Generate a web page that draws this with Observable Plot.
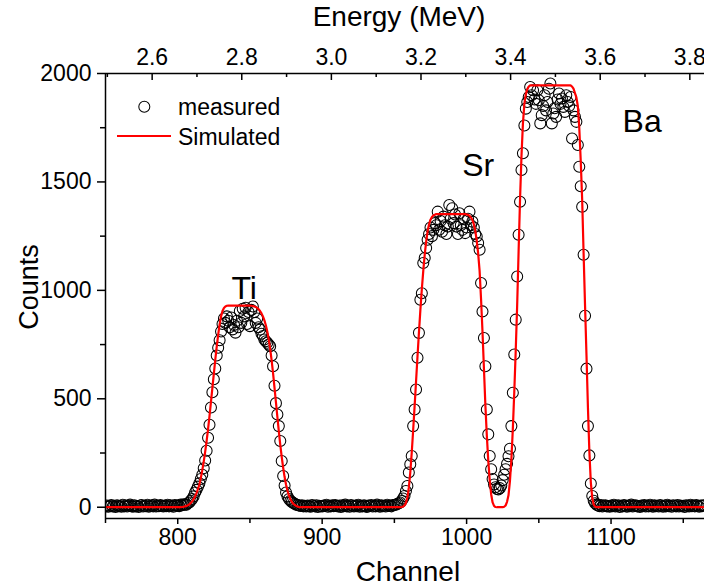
<!DOCTYPE html>
<html>
<head>
<meta charset="utf-8">
<script src="https://cdn.jsdelivr.net/npm/d3@7"></script>
<script src="https://cdn.jsdelivr.net/npm/@observablehq/plot@0.6"></script>
<style>
html, body { margin: 0; padding: 0; background: #fff; }
#chart { width: 704px; height: 586px; overflow: hidden; }
</style>
</head>
<body>
<div id="chart"></div>
<script>
// ---- data ----
const startChannel = 750; // first channel of both series, one value per channel

const measuredCounts = [
  4, 8, 2, 6, 10, 3, 7, 1, 9, 5,
  6, 2, 11, 4, 8, 3, 7, 12, 5, 2,
  9, 4, 6, 1, 8, 10, 3, 7, 5, 11,
  2, 6, 9, 4, 12, 3, 7, 5, 10, 6,
  3, 8, 5, 11, 4, 9, 6, 2, 10, 7,
  8, 5, 12, 9, 14, 11, 12, 18, 22, 30,
  38, 50, 68, 80, 95, 110, 130, 150, 180, 215,
  260, 320, 380, 460, 530, 590, 640, 700, 735, 770,
  810, 845, 870, 850, 880, 860, 830, 875, 820, 840,
  805, 860, 830, 905, 850, 915, 880, 920, 845, 900,
  835, 910, 926, 900, 850, 870, 830, 819, 800, 790,
  773, 765, 758, 750, 742, 700, 650, 560, 480, 428,
  374, 305, 213, 144, 100, 68, 50, 38, 30, 24,
  20, 16, 12, 10, 8, 6, 9, 4, 7, 3,
  8, 5, 2, 10, 6, 4, 9, 1, 7, 5,
  3, 8, 6, 11, 2, 7, 4, 9, 5, 10,
  6, 3, 8, 1, 9, 5, 12, 4, 7, 2,
  10, 6, 3, 8, 5, 11, 2, 7, 4, 9,
  5, 1, 8, 6, 10, 3, 7, 4, 12, 6,
  2, 9, 5, 7, 3, 11, 6, 8, 4, 10,
  10, 12, 15, 18, 22, 29, 40, 52, 75, 98,
  160, 198, 236, 374, 451, 543, 689, 804, 957, 987,
  1126, 1149, 1195, 1233, 1260, 1290, 1250, 1279, 1310, 1300,
  1363, 1280, 1320, 1270, 1340, 1300, 1260, 1294, 1394, 1330,
  1379, 1310, 1350, 1294, 1260, 1356, 1300, 1279, 1330, 1264,
  1290, 1330, 1363, 1300, 1317, 1290, 1260, 1248, 1218, 1187,
  1034, 903, 780, 650, 451, 336, 236, 175, 130, 105,
  92, 84, 82, 88, 100, 125, 150, 175, 200, 235,
  270, 374, 528, 704, 865, 1064, 1256, 1409, 1555, 1632,
  1760, 1838, 1869, 1892, 1938, 1900, 1923, 1880, 1860, 1923,
  1877, 1770, 1808, 1850, 1900, 1830, 1869, 1930, 1954, 1770,
  1816, 1840, 1800, 1880, 1908, 1860, 1885, 1846, 1823, 1900,
  1869, 1850, 1892, 1700, 1830, 1800, 1777, 1670, 1570, 1480,
  1386, 1164, 883, 639, 374, 239, 109, 52, 30, 18,
  12, 8, 5, 10, 3, 7, 9, 4, 6, 2,
  8, 5, 11, 3, 6, 9, 1, 7, 4, 10,
  6, 2, 8, 5, 12, 3, 7, 9, 4, 6,
  1, 8, 5, 10, 3, 7, 4, 11, 6, 2,
  9, 5, 7, 3, 10, 6, 2, 8, 4, 11,
  5, 7, 2, 9, 6, 4, 10, 3, 8, 5,
  7, 1, 9, 6, 3, 11, 5, 8, 4, 10,
  6, 2, 8, 5, 9
];

const simulatedCounts = [
  0, 0, 0, 0, 0, 0, 0, 0, 0, 0,
  0, 0, 0, 0, 0, 0, 0, 0, 0, 0,
  0, 0, 0, 0, 0, 0, 0, 0, 0, 0,
  0, 0, 0, 0, 0, 0, 0, 0, 0, 0,
  0, 0, 0, 0, 0, 0, 0, 0, 0, 0,
  0, 0, 0, 1, 2, 4, 6, 9, 13, 19,
  27, 37, 50, 65, 83, 105, 135, 170, 210, 255,
  305, 360, 420, 485, 550, 615, 680, 740, 795, 843,
  880, 905, 919, 926, 929, 930, 930, 930, 930, 930,
  930, 930, 930, 930, 930, 930, 930, 930, 930, 930,
  930, 929, 928, 926, 923, 919, 913, 905, 894, 880,
  862, 839, 810, 774, 730, 678, 618, 552, 484, 416,
  350, 288, 232, 182, 139, 104, 76, 54, 37, 25,
  16, 10, 6, 3, 1, 0, 0, 0, 0, 0,
  0, 0, 0, 0, 0, 0, 0, 0, 0, 0,
  0, 0, 0, 0, 0, 0, 0, 0, 0, 0,
  0, 0, 0, 0, 0, 0, 0, 0, 0, 0,
  0, 0, 0, 0, 0, 0, 0, 0, 0, 0,
  0, 0, 0, 0, 0, 0, 0, 0, 0, 0,
  0, 0, 0, 0, 0, 0, 0, 0, 0, 0,
  0, 0, 0, 0, 0, 1, 3, 8, 20, 45,
  90, 160, 250, 355, 465, 580, 695, 805, 910, 1005,
  1090, 1165, 1225, 1272, 1305, 1326, 1338, 1345, 1349, 1352,
  1352, 1352, 1352, 1352, 1352, 1352, 1352, 1352, 1352, 1352,
  1352, 1352, 1352, 1352, 1352, 1352, 1352, 1352, 1352, 1352,
  1350, 1348, 1344, 1336, 1325, 1305, 1275, 1230, 1170, 1090,
  960, 810, 640, 470, 330, 215, 125, 60, 22, 6,
  1, 0, 0, 0, 0, 0, 2, 8, 25, 55,
  120, 220, 360, 530, 720, 930, 1180, 1420, 1620, 1770,
  1860, 1905, 1928, 1940, 1945, 1945, 1945, 1945, 1945, 1945,
  1945, 1945, 1945, 1945, 1945, 1945, 1945, 1945, 1945, 1945,
  1945, 1945, 1945, 1945, 1945, 1945, 1945, 1945, 1945, 1945,
  1945, 1945, 1945, 1940, 1930, 1910, 1890, 1850, 1750, 1600,
  1420, 1170, 930, 700, 460, 255, 115, 42, 12, 3,
  0, 0, 0, 0, 0, 0, 0, 0, 0, 0,
  0, 0, 0, 0, 0, 0, 0, 0, 0, 0,
  0, 0, 0, 0, 0, 0, 0, 0, 0, 0,
  0, 0, 0, 0, 0, 0, 0, 0, 0, 0,
  0, 0, 0, 0, 0, 0, 0, 0, 0, 0,
  0, 0, 0, 0, 0, 0, 0, 0, 0, 0,
  0, 0, 0, 0, 0, 0, 0, 0, 0, 0,
  0, 0, 0, 0, 0
];

const seriesNames = ["measured", "Simulated"];
const channelTicks = [800, 900, 1000, 1100];
const channelMinorTicks = [750, 850, 950, 1050, 1150];
const countTicks = [0, 500, 1000, 1500, 2000];
const countMinorTicks = [250, 750, 1250, 1750];
const energyTicks = [2.6, 2.8, 3.0, 3.2, 3.4, 3.6, 3.8];
const energyMinorTicks = [2.5, 2.7, 2.9, 3.1, 3.3, 3.5, 3.7];
const peakNames = ["Ti", "Sr", "Ba"];
const peakChannels = [846, 1008, 1121.5];
const peakCounts = [1009, 1574, 1778];

// energy calibration of the top axis (channel at 2.6 MeV, channels per MeV)
const energyRef = 2.6, channelAtRef = 782.3, channelsPerMeV = 310.2;
const toChannel = e => channelAtRef + (e - energyRef) * channelsPerMeV;
const toEnergy = c => energyRef + (c - channelAtRef) / channelsPerMeV;

// ---- tables ----
const measured = measuredCounts.map((c, i) => ({channel: startChannel + i, counts: c}));
const simulated = simulatedCounts.map((c, i) => ({channel: startChannel + i, counts: c}));
const peaks = peakNames.map((n, i) => ({name: n, channel: peakChannels[i], counts: peakCounts[i]}));

// ---- layout ----
const W = 704, H = 586, mL = 105, mR = 0, mT = 73, mB = 68;
const plotH = H - mT - mB;
const xDomain = [750, 1164.7], yDomain = [-52, 2000];
const font = "'Liberation Sans', Arial, Helvetica, sans-serif";
const axisW = 1.5;

const plot = Plot.plot({
  width: W, height: H,
  marginLeft: mL, marginRight: mR, marginTop: mT, marginBottom: mB,
  style: {fontFamily: font, background: "#fff", color: "#000"},
  x: {domain: xDomain},
  y: {domain: yDomain},
  marks: [
    Plot.dot(measured, {x: "channel", y: "counts", r: 5.5, stroke: "#000", strokeWidth: 1.05, fill: "none", clip: true}),
    Plot.line(simulated, {x: "channel", y: "counts", stroke: "#ff0000", strokeWidth: 2.2, clip: true}),
    Plot.ruleX([xDomain[0]], {stroke: "#000", strokeWidth: axisW}),
    Plot.ruleY([yDomain[0]], {stroke: "#000", strokeWidth: axisW}),
    Plot.ruleY([yDomain[1]], {stroke: "#000", strokeWidth: axisW}),
    Plot.axisX({anchor: "bottom", ticks: channelTicks, tickSize: 6, tickPadding: 4, fontSize: 23, label: null, strokeWidth: axisW, tickFormat: d => String(d)}),
    Plot.axisX({anchor: "bottom", ticks: channelMinorTicks, tickSize: 5, tickFormat: () => "", label: null, strokeWidth: axisW}),
    Plot.axisY({anchor: "left", ticks: countTicks, tickSize: 8, tickPadding: 6, fontSize: 23, label: null, strokeWidth: axisW, tickFormat: d => String(d)}),
    Plot.axisY({anchor: "left", ticks: countMinorTicks, tickSize: 5, tickFormat: () => "", label: null, strokeWidth: axisW}),
    Plot.axisX({anchor: "top", ticks: energyTicks.map(toChannel), tickSize: 0, tickPadding: 9, fontSize: 23, label: null, tickFormat: d => toEnergy(d).toFixed(1)}),
    Plot.tickX(energyTicks.map(toChannel), {x: d => d, insetBottom: plotH - 7, stroke: "#000", strokeWidth: axisW}),
    Plot.tickX(energyMinorTicks.map(toChannel), {x: d => d, insetBottom: plotH - 4, stroke: "#000", strokeWidth: axisW}),
    Plot.text(["Channel"], {frameAnchor: "bottom", textAnchor: "middle", lineAnchor: "middle", dx: 3, dy: 54, fontSize: 28}),
    Plot.text(["Energy (MeV)"], {frameAnchor: "top", textAnchor: "middle", lineAnchor: "middle", dx: -6, dy: -56, fontSize: 28}),
    Plot.text(["Counts"], {frameAnchor: "left", textAnchor: "middle", lineAnchor: "middle", rotate: -90, dx: -76, dy: -9, fontSize: 27}),
    Plot.text(peaks, {x: "channel", y: "counts", text: "name", fontSize: 32})
  ]
});

// legend (inside the plot area, top-left)
const svg = d3.select(plot);
const lg = svg.append("g");
lg.append("circle").attr("cx", 144.3).attr("cy", 106.7).attr("r", 5.5)
  .attr("fill", "none").attr("stroke", "#000").attr("stroke-width", 1.05);
lg.append("line").attr("x1", 117).attr("x2", 171).attr("y1", 136).attr("y2", 136)
  .attr("stroke", "#ff0000").attr("stroke-width", 2.2);
seriesNames.forEach((name, i) => {
  lg.append("text")
    .attr("x", 178).attr("y", i === 0 ? 106.5 : 137).attr("dy", "0.35em")
    .style("font-family", font).style("font-size", "23px")
    .style("text-anchor", "start").attr("fill", "#000")
    .text(name);
});

document.getElementById("chart").appendChild(plot);
</script>
</body>
</html>
